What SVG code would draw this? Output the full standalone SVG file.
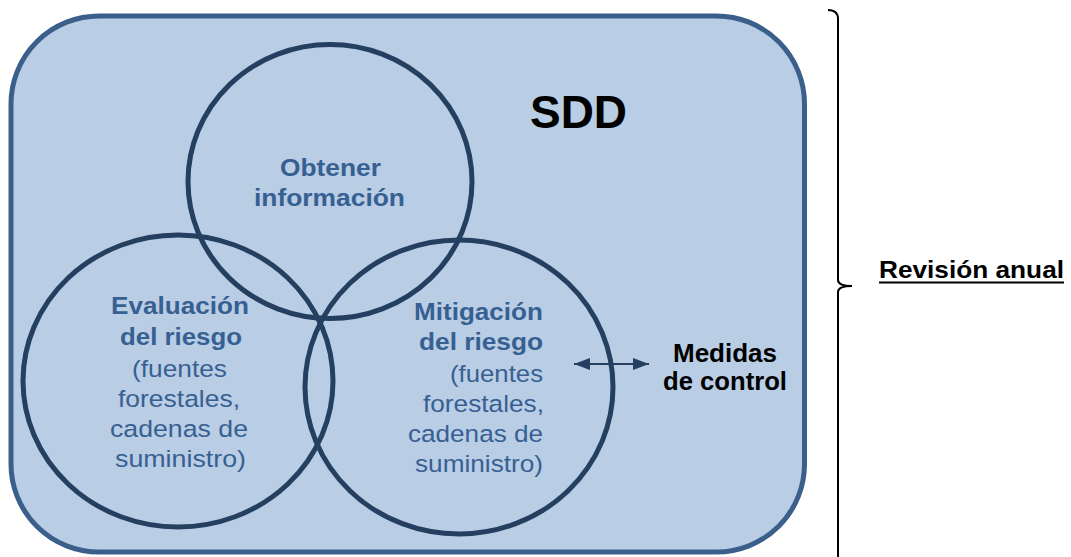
<svg xmlns="http://www.w3.org/2000/svg" width="1071" height="557" viewBox="0 0 1071 557">
<style>
.t{font-family:"Liberation Sans",Arial,sans-serif;font-size:24.5px;fill:#376092}
.b{font-weight:bold}
.k{font-family:"Liberation Sans",Arial,sans-serif;font-weight:bold;fill:#000}
.c{fill:none;stroke:#243f60;stroke-width:5}
</style>
<defs>
<marker id="ah" markerUnits="userSpaceOnUse" markerWidth="16" markerHeight="12" refX="16" refY="6" orient="auto-start-reverse">
<path d="M0,0 L16,6 L0,12 Z" fill="#243f60"/>
</marker>
</defs>
<rect width="1071" height="557" fill="#fff"/>
<g id="sdd">
<rect x="11" y="16" width="793.5" height="536" rx="88" ry="88" fill="#b9cde5" stroke="#3a5f8b" stroke-width="5"/>
<text class="k" x="530" y="128" font-size="46" textLength="97" lengthAdjust="spacingAndGlyphs">SDD</text>
</g>
<g id="obtener">
<ellipse class="c" cx="330" cy="181.5" rx="142" ry="137"/>
<text class="t b" x="280" y="176" textLength="101" lengthAdjust="spacingAndGlyphs">Obtener</text>
<text class="t b" x="254" y="206" textLength="151" lengthAdjust="spacingAndGlyphs">información</text>
</g>
<g id="evaluacion">
<ellipse class="c" cx="178" cy="381" rx="155" ry="146"/>
<text class="t b" x="111" y="314" textLength="138" lengthAdjust="spacingAndGlyphs">Evaluación</text>
<text class="t b" x="120" y="345" textLength="122" lengthAdjust="spacingAndGlyphs">del riesgo</text>
<text class="t" x="132" y="377" textLength="95" lengthAdjust="spacingAndGlyphs">(fuentes</text>
<text class="t" x="118" y="407" textLength="122" lengthAdjust="spacingAndGlyphs">forestales,</text>
<text class="t" x="110" y="437" textLength="138" lengthAdjust="spacingAndGlyphs">cadenas de</text>
<text class="t" x="115" y="467" textLength="131" lengthAdjust="spacingAndGlyphs">suministro)</text>
</g>
<g id="mitigacion">
<ellipse class="c" cx="459" cy="387" rx="154" ry="147"/>
<text class="t b" x="414" y="320" textLength="129" lengthAdjust="spacingAndGlyphs">Mitigación</text>
<text class="t b" x="419" y="350" textLength="124" lengthAdjust="spacingAndGlyphs">del riesgo</text>
<text class="t" x="450" y="382" textLength="93" lengthAdjust="spacingAndGlyphs">(fuentes</text>
<text class="t" x="423" y="412" textLength="121" lengthAdjust="spacingAndGlyphs">forestales,</text>
<text class="t" x="408" y="442" textLength="135" lengthAdjust="spacingAndGlyphs">cadenas de</text>
<text class="t" x="415" y="472" textLength="128" lengthAdjust="spacingAndGlyphs">suministro)</text>
</g>
<g id="medidas">
<text class="k" x="673" y="362" font-size="25" textLength="104" lengthAdjust="spacingAndGlyphs">Medidas</text>
<text class="k" x="663" y="390" font-size="25" textLength="124" lengthAdjust="spacingAndGlyphs">de control</text>
</g>
<g id="revision">
<text class="k" x="879" y="278" font-size="24" textLength="185" lengthAdjust="spacingAndGlyphs">Revisión anual</text>
<line x1="879" y1="282.5" x2="1064" y2="282.5" stroke="#000" stroke-width="2"/>
</g>
<g id="connectors">
<line x1="574" y1="364" x2="649" y2="364" stroke="#243f60" stroke-width="2" marker-start="url(#ah)" marker-end="url(#ah)"/>
<path d="M828,10 Q838,10 838,19 L838,280 Q838,286 852,286 Q838,286 838,292 L838,557" fill="none" stroke="#000" stroke-width="2"/>
</g>
</svg>
